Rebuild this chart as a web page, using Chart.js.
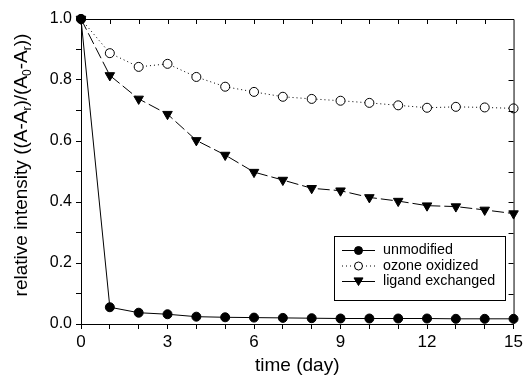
<!DOCTYPE html>
<html><head><meta charset="utf-8">
<script src="https://cdn.jsdelivr.net/npm/chart.js@4"></script>
<style>html,body{margin:0;padding:0;background:#fff}#wrap{width:526px;height:377px}</style>
</head><body><div id="wrap"><canvas id="c" width="526" height="377"></canvas></div>
<script>
const days = [0,1,2,3,4,5,6,7,8,9,10,11,12,13,14,15];
const unmodified = [1.0,0.055,0.037,0.032,0.024,0.022,0.021,0.020,0.019,0.018,0.018,0.018,0.018,0.017,0.017,0.017];
const ozoneOxidized = [1.0,0.888,0.843,0.853,0.810,0.778,0.761,0.745,0.738,0.732,0.725,0.717,0.709,0.712,0.710,0.707];
const ligandExchanged = [1.0,0.815,0.738,0.688,0.602,0.554,0.498,0.472,0.445,0.437,0.415,0.403,0.388,0.385,0.374,0.362];
const seriesNames = ['unmodified','ozone oxidized','ligand exchanged'];
const xTickLabels = [0,3,6,9,12,15];
const yTickLabels = [0.0,0.2,0.4,0.6,0.8,1.0];

const FONT = "'Liberation Sans', Arial, sans-serif";
const pts = arr => days.map((d,i)=>({x:d,y:arr[i]}));

const frame = {
  id:'frame',
  afterDraw(chart){
    const {ctx, chartArea:a, scales:{x,y}} = chart;
    ctx.save();
    ctx.strokeStyle='#000'; ctx.lineWidth=1;
    ctx.beginPath();
    ctx.moveTo(a.left, a.top+0.5); ctx.lineTo(a.right+0.5, a.top+0.5); ctx.lineTo(a.right+0.5, a.bottom);
    for(let d=1; d<15; d++){ const px=Math.round(x.getPixelForValue(d))+0.5; ctx.moveTo(px,a.top); ctx.lineTo(px,a.top+5); }
    for(let k=1; k<10; k++){ const py=Math.round(y.getPixelForValue(k/10))+0.5; ctx.moveTo(a.right,py); ctx.lineTo(a.right-5,py); }
    ctx.stroke();
    // y title with subscripts
    ctx.fillStyle='#000';
    ctx.translate(22, 165);
    ctx.rotate(-Math.PI/2);
    const parts=[['relative intensity ((A-A',0],['r',1],[')/(A',0],['0',1],['-A',0],['r',1],['))',0]];
    const big='19px '+FONT, small='12px '+FONT;
    let w=0; parts.forEach(([t,s])=>{ctx.font=s?small:big; w+=ctx.measureText(t).width;});
    let cx=-w/2; ctx.textBaseline='middle';
    parts.forEach(([t,s])=>{ctx.font=s?small:big; ctx.fillText(t,cx,s?6:0); cx+=ctx.measureText(t).width;});
    ctx.setTransform(1,0,0,1,0,0);
    // legend
    const lx=334, ly=236, lw=171, lh=64;
    ctx.strokeStyle='#000'; ctx.lineWidth=1;
    ctx.strokeRect(lx+0.5, ly+0.5, lw, lh);
    ctx.font='14.3px '+FONT; ctx.textBaseline='middle';
    chart.data.datasets.forEach((ds,i)=>{
      const yy=ly+14.5+i*15.5;
      ctx.save();
      ctx.setLineDash(i===1?[1,3]:[]); ctx.lineWidth=1; ctx.strokeStyle='#000';
      ctx.beginPath(); ctx.moveTo(342,yy); ctx.lineTo(375,yy); ctx.stroke();
      ctx.setLineDash([]);
      const mx=358.5;
      ctx.beginPath();
      if(ds.pointStyle==='triangle'){ const r=4.5; ctx.moveTo(mx-r,yy-r*0.8); ctx.lineTo(mx+r,yy-r*0.8); ctx.lineTo(mx,yy+r*0.9); ctx.closePath(); }
      else { ctx.arc(mx,yy,ds.pointRadius-0.5,0,Math.PI*2); }
      ctx.fillStyle=ds.pointBackgroundColor; ctx.fill(); ctx.stroke();
      ctx.restore();
      ctx.fillStyle='#000'; ctx.fillText(ds.label, 383, yy);
    });
    ctx.restore();
  }
};

new Chart(document.getElementById('c'), {
  type:'line',
  data:{datasets:[
    {label:seriesNames[0], data:pts(unmodified), borderColor:'#000', borderWidth:1, pointStyle:'circle', pointRadius:4.5, pointBackgroundColor:'#000', pointBorderColor:'#000', pointBorderWidth:1},
    {label:seriesNames[1], data:pts(ozoneOxidized), borderColor:'#000', borderWidth:1, borderDash:[1,3], pointStyle:'circle', pointRadius:4.5, pointBackgroundColor:'#fff', pointBorderColor:'#000', pointBorderWidth:1},
    {label:seriesNames[2], data:pts(ligandExchanged), borderColor:'#000', borderWidth:1, borderDash:[12,4], pointStyle:'triangle', pointRotation:180, pointRadius:5.5, pointBackgroundColor:'#000', pointBorderColor:'#000', pointBorderWidth:1}
  ]},
  options:{
    responsive:false, animation:false, clip:false,
    layout:{padding:{top:19,right:11,left:0,bottom:0}},
    plugins:{legend:{display:false}, tooltip:{enabled:false}},
    elements:{line:{tension:0}},
    scales:{
      x:{type:'linear', min:0, max:15,
        afterFit(s){s.height=53;},
        grid:{drawOnChartArea:false, tickLength:5, color:'#000'},
        border:{color:'#000', width:1},
        ticks:{stepSize:1, autoSkip:false, maxRotation:0, padding:3, color:'#000', font:{family:FONT,size:17},
          callback:v=>xTickLabels.includes(v)?String(v):''},
        title:{display:true, text:'time (day)', color:'#000', font:{family:FONT,size:19}, padding:{top:0,bottom:0}}
      },
      y:{type:'linear', min:0, max:1,
        afterFit(s){s.width=81;},
        grid:{drawOnChartArea:false, tickLength:5, color:'#000'},
        border:{color:'#000', width:1},
        ticks:{stepSize:0.1, autoSkip:false, padding:4, color:'#000', font:{family:FONT,size:16},
          callback:v=>{const k=Math.round(v*10); return (k%2===0)?yTickLabels[k/2].toFixed(1):'';}}
      }
    }
  },
  plugins:[frame]
});
</script></body></html>
